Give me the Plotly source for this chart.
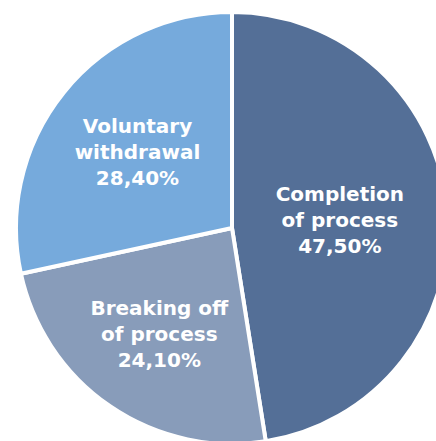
import plotly.graph_objects as go

# Outcome shares of the process (percent)
labels = ["Completion<br>of process", "Breaking off<br>of process", "Voluntary<br>withdrawal"]
shares = [47.5, 24.1, 28.4]
colors = ["#546F97", "#889CBA", "#76AADC"]

fig = go.Figure(
    go.Pie(
        labels=labels,
        values=shares,
        sort=False,
        direction="clockwise",
        rotation=0,
        marker=dict(colors=colors, line=dict(color="white", width=4)),
        texttemplate="<b>%{label}<br>%{value:.2f}%</b>",
        textposition="inside",
        insidetextorientation="horizontal",
        textfont=dict(family="DejaVu Sans", size=20, color="white"),
        hoverinfo="label+percent",
        showlegend=False,
    )
)

fig.update_layout(
    width=464,
    height=456,
    margin=dict(l=16, r=16, t=12, b=12),
    paper_bgcolor="white",
    separators=", ",
)

fig.write_html(
    "out.html",
    post_script="document.body.style.margin='0';document.body.style.overflow='hidden';",
)
